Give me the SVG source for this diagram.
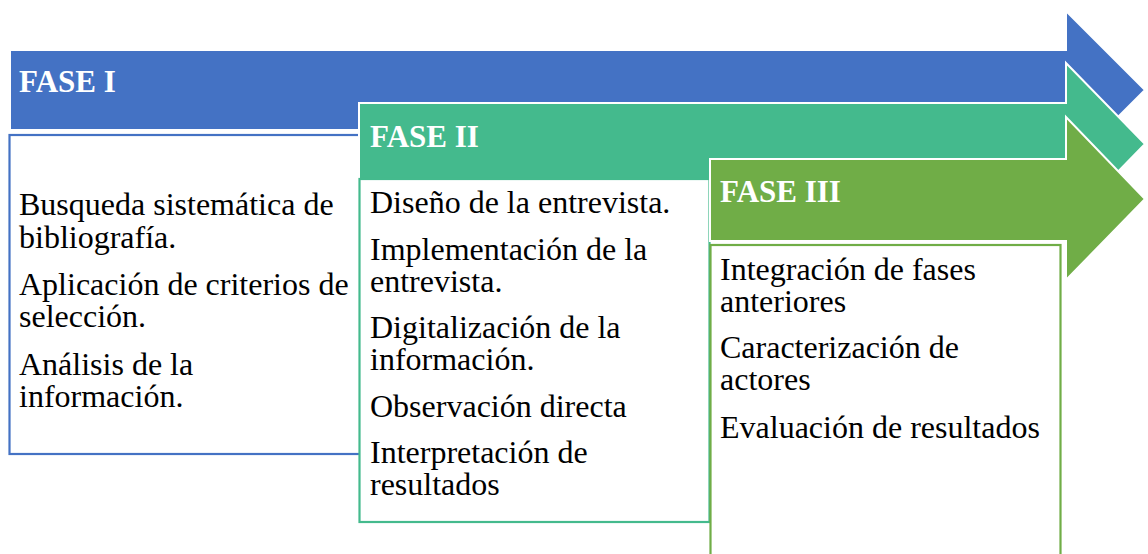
<svg xmlns="http://www.w3.org/2000/svg" width="1148" height="554" viewBox="0 0 1148 554">
<style>
.arrow{stroke:#ffffff;stroke-width:2;stroke-linejoin:miter}
.box{fill:#ffffff;stroke-width:2.2}
.hdr{font-family:"Liberation Serif","Times New Roman",serif;font-weight:bold;font-size:31px;fill:#ffffff}
.txt{font-family:"Liberation Serif","Times New Roman",serif;font-size:32px;fill:#000000}
</style>
<rect width="1148" height="554" fill="#ffffff"/>
<g id="fase1">
<polygon class="arrow" fill="#4472C4" points="10,50 1066,50 1066,11 1145,90 1066,169 1066,130 10,130"/>
<rect class="box" stroke="#4472C4" x="9.5" y="135" width="360" height="319"/>
<text class="hdr" x="19" y="92">FASE I</text>
<text class="txt" x="19" y="215">Busqueda sistemática de</text>
<text class="txt" x="19" y="248">bibliografía.</text>
<text class="txt" x="19" y="295">Aplicación de criterios de</text>
<text class="txt" x="19" y="327">selección.</text>
<text class="txt" x="19" y="375">Análisis de la</text>
<text class="txt" x="19" y="407">información.</text>
</g>
<g id="fase2">
<polygon class="arrow" fill="#44BA8D" points="359,103 1066,103 1066,63 1145,144 1066,225 1066,185 359,185"/>
<rect class="box" stroke="#44BA8D" x="359.5" y="179" width="350" height="343"/>
<text class="hdr" x="370" y="147">FASE II</text>
<text class="txt" x="370" y="213">Diseño de la entrevista.</text>
<text class="txt" x="370" y="260">Implementación de la</text>
<text class="txt" x="370" y="292">entrevista.</text>
<text class="txt" x="370" y="338">Digitalización de la</text>
<text class="txt" x="370" y="370">información.</text>
<text class="txt" x="370" y="417">Observación directa</text>
<text class="txt" x="370" y="463">Interpretación de</text>
<text class="txt" x="370" y="495">resultados</text>
</g>
<g id="fase3">
<polygon class="arrow" fill="#70AD47" points="710,159 1066,159 1066,117 1145,199 1066,280 1066,241 710,241"/>
<rect class="box" stroke="#70AD47" x="710.5" y="245" width="350" height="360"/>
<text class="hdr" x="720" y="202">FASE III</text>
<text class="txt" x="720" y="280">Integración de fases</text>
<text class="txt" x="720" y="312">anteriores</text>
<text class="txt" x="720" y="358">Caracterización de</text>
<text class="txt" x="720" y="390">actores</text>
<text class="txt" x="720" y="438">Evaluación de resultados</text>
</g>
<g id="connectors"></g>
</svg>
